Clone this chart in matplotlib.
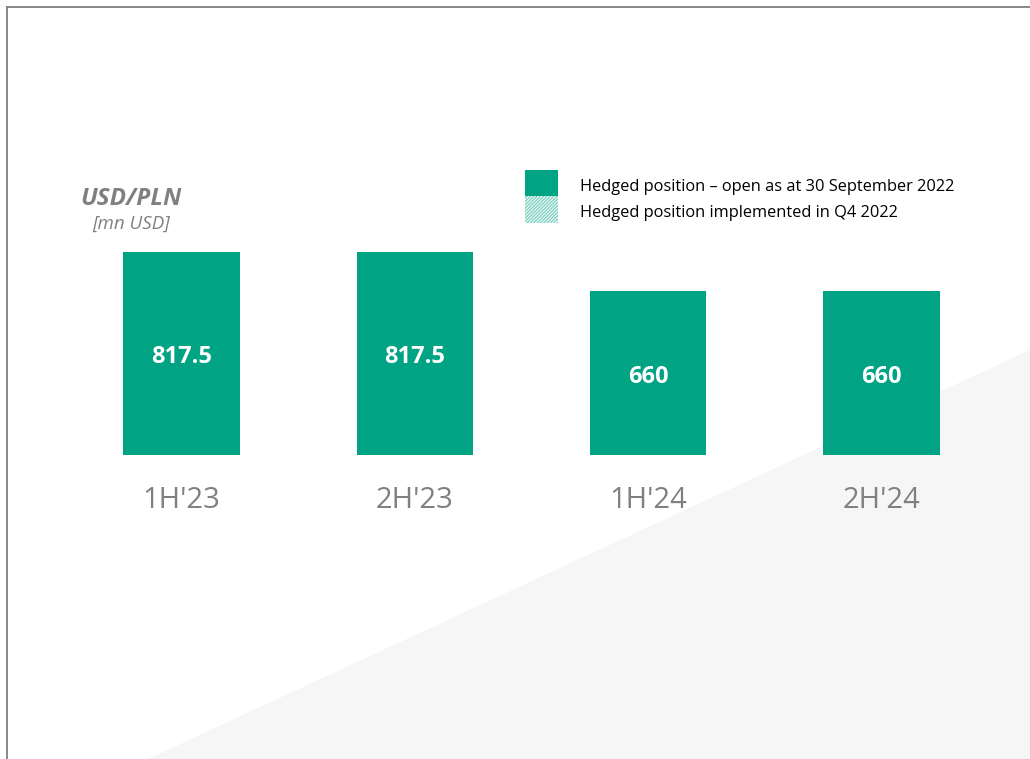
import matplotlib
matplotlib.use("Agg")
import matplotlib.pyplot as plt
from matplotlib.patches import Polygon, Rectangle
from matplotlib.lines import Line2D
import matplotlib.transforms as mtransforms

categories = ["1H'23", "2H'23", "1H'24", "2H'24"]
open_values = [817.5, 817.5, 660, 660]
q4_values = [0, 0, 0, 0]
value_labels = ["817.5", "817.5", "660", "660"]
legend_labels = ["Hedged position \u2013 open as at 30 September 2022",
                 "Hedged position implemented in Q4 2022"]

GREEN = "#00A383"
GREY = "#808080"
W, H = 1030, 759

fig = plt.figure(figsize=(W / 100, H / 100), dpi=100)
fig.patch.set_facecolor("white")

def fx(px):
    return px / W

def fy(py):
    return 1 - py / H

# background grey triangle
bg = Polygon([(fx(148), fy(759)), (fx(1030), fy(350)), (fx(1030), fy(759))],
             closed=True, transform=fig.transFigure, facecolor="#F6F6F6",
             edgecolor="none", zorder=-5)
fig.patches.append(bg)
# frame lines (top and left)
fig.lines.append(Line2D([fx(7), fx(1030)], [fy(7), fy(7)], transform=fig.transFigure,
                        color="#7F7F7F", lw=1.3, zorder=-4))
fig.lines.append(Line2D([fx(7), fx(7)], [fy(7), fy(759)], transform=fig.transFigure,
                        color="#7F7F7F", lw=1.3, zorder=-4))

ax = fig.add_axes([fx(65), fy(455), fx(998) - fx(65), 248.3 / H])
ax.set_zorder(2)
ax.set_facecolor("none")
x = list(range(len(categories)))
ax.bar(x, open_values, width=0.5, color=GREEN, zorder=2)
ax.bar(x, q4_values, width=0.5, bottom=open_values, facecolor="white",
       edgecolor="#7FD1C1", hatch="//////", linewidth=0, zorder=2)
ax.set_xlim(-0.5, 3.5)
ax.set_ylim(0, 1000)
ax.axis("off")

for xi, v, lab in zip(x, open_values, value_labels):
    ax.annotate(lab, (xi, v / 2), xytext=(0, -2.5), textcoords="offset points",
                ha="center", va="center", color="white",
                fontsize=17, fontweight="bold", family="Open Sans")

trans = mtransforms.blended_transform_factory(ax.transData, fig.transFigure)
for xi, c in zip(x, categories):
    ax.text(xi, fy(500), c, transform=trans, ha="center", va="center",
            color=GREY, fontsize=21, family="Open Sans")

# title
fig.text(fx(80), fy(199), "USD/PLN", ha="left", va="center", color=GREY,
         fontsize=17.5, fontweight="bold", style="italic", family="Open Sans")
fig.text(fx(92), fy(224), "[mn USD]", ha="left", va="center", color=GREY,
         fontsize=13.5, style="italic", family="Open Sans")

# legend
fig.patches.append(Rectangle((fx(525), fy(196)), fx(558) - fx(525), 26 / H,
                             transform=fig.transFigure, facecolor=GREEN,
                             edgecolor="none", zorder=3))
fig.patches.append(Rectangle((fx(525), fy(223)), fx(558) - fx(525), 27 / H,
                             transform=fig.transFigure, facecolor="white",
                             edgecolor="#7FD1C1", hatch="//////////", linewidth=0,
                             zorder=3))
fig.text(fx(580), fy(187), legend_labels[0], ha="left", va="center",
         color="black", fontsize=11.75, family="Open Sans")
fig.text(fx(580), fy(213), legend_labels[1], ha="left", va="center",
         color="black", fontsize=11.75, family="Open Sans")

fig.savefig("out.png", dpi=100, facecolor=fig.get_facecolor())
